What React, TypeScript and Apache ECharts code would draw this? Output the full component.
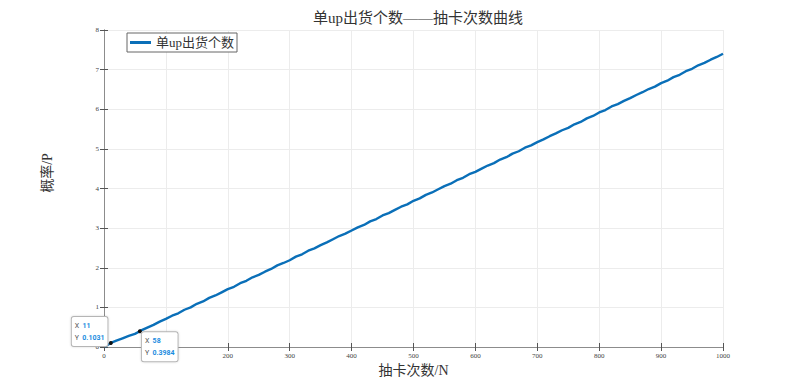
import React, { useEffect, useRef } from "react";
import * as echarts from "echarts";

const drawsX = [
  1, 11, 20, 30, 40, 50, 58, 60, 70, 80, 90, 100,
  110, 120, 130, 140, 150, 160, 170, 180, 190, 200,
  210, 220, 230, 240, 250, 260, 270, 280, 290, 300,
  310, 320, 330, 340, 350, 360, 370, 380, 390, 400,
  410, 420, 430, 440, 450, 460, 470, 480, 490, 500,
  510, 520, 530, 540, 550, 560, 570, 580, 590, 600,
  610, 620, 630, 640, 650, 660, 670, 680, 690, 700,
  710, 720, 730, 740, 750, 760, 770, 780, 790, 800,
  810, 820, 830, 840, 850, 860, 870, 880, 890, 900,
  910, 920, 930, 940, 950, 960, 970, 980, 990, 1000,
];
const probP = [
  0.01, 0.1031, 0.16, 0.22, 0.28, 0.33, 0.3984, 0.42, 0.49, 0.56, 0.64, 0.71,
  0.79, 0.85, 0.94, 1.0, 1.09, 1.15, 1.24, 1.3, 1.38, 1.46,
  1.52, 1.61, 1.67, 1.76, 1.82, 1.9, 1.97, 2.06, 2.12, 2.19,
  2.28, 2.34, 2.43, 2.49, 2.57, 2.64, 2.72, 2.8, 2.86, 2.94,
  3.02, 3.08, 3.17, 3.23, 3.32, 3.38, 3.46, 3.54, 3.6, 3.69,
  3.75, 3.84, 3.9, 3.98, 4.06, 4.12, 4.21, 4.27, 4.36, 4.42,
  4.5, 4.58, 4.64, 4.73, 4.79, 4.88, 4.94, 5.03, 5.09, 5.17,
  5.24, 5.32, 5.39, 5.47, 5.53, 5.62, 5.68, 5.77, 5.83, 5.92,
  5.98, 6.07, 6.13, 6.21, 6.28, 6.36, 6.43, 6.51, 6.57, 6.66,
  6.72, 6.81, 6.87, 6.96, 7.02, 7.11, 7.17, 7.25, 7.32, 7.4,
];
const dataTips = [
  { x: 11, y: 0.1031 },
  { x: 58, y: 0.3984 },
];

const TITLE = "单up出货个数——抽卡次数曲线";
const SERIES_NAME = "单up出货个数";
const X_NAME = "抽卡次数/N";
const Y_NAME = "概率/P";

const SERIF = "'Liberation Serif', 'DejaVu Serif', 'Noto Sans CJK SC', serif";

export default function App() {
  const ref = useRef<HTMLDivElement>(null);
  useEffect(() => {
    if (!ref.current) return;
    const chart = echarts.init(ref.current, undefined, { renderer: "svg" });
    const axisLineColor = "#8c8c8c";
    const tipLabel = (pos: "lt" | "rb") => ({
      show: true,
      formatter: (p: any) => `{k|X} {v|${p.data.coord[0]}}\n{k|Y} {v|${p.data.coord[1]}}`,
      position: pos === "lt" ? [-37, -24] : [4, 3],
      align: "left",
      verticalAlign: "top",
      backgroundColor: "#ffffff",
      borderColor: "#b5b5b5",
      borderWidth: 1,
      borderRadius: 2,
      padding: [3, 3, 2, 3],
      shadowColor: "rgba(0,0,0,0.15)",
      shadowBlur: 2,
      rich: {
        k: { fontSize: 7, color: "#555555", fontFamily: "Roboto, sans-serif", lineHeight: 11 },
        v: { fontSize: 7, color: "#1a8ce0", fontWeight: "bold", fontFamily: "Roboto, sans-serif", lineHeight: 11 },
      },
    });
    chart.setOption({
      animation: false,
      backgroundColor: "#ffffff",
      title: {
        text: TITLE,
        left: 413,
        top: 5,
        textAlign: "center",
        textStyle: { fontSize: 15, fontWeight: "normal", color: "#333333", fontFamily: SERIF },
      },
      legend: {
        left: 127,
        top: 33,
        data: [SERIES_NAME],
        icon: "rect",
        itemWidth: 21,
        itemHeight: 3,
        padding: [3, 3, 3, 3],
        borderColor: "#666666",
        borderWidth: 1,
        borderRadius: 0,
        backgroundColor: "#ffffff",
        textStyle: { fontSize: 13, color: "#333333", fontFamily: SERIF },
      },
      grid: { left: 104, right: 76, top: 30, bottom: 43, containLabel: false },
      xAxis: [
        {
          type: "value",
          min: 0,
          max: 1000,
          interval: 100,
          name: X_NAME,
          nameLocation: "middle",
          nameGap: 14,
          nameTextStyle: { fontSize: 14, color: "#333333", fontFamily: SERIF },
          axisLine: { show: true, lineStyle: { color: axisLineColor, width: 1 } },
          axisTick: { show: true, inside: true, length: 4, lineStyle: { color: "#555555" } },
          axisLabel: { fontSize: 7, color: "#444444", margin: 5, fontFamily: SERIF, formatter: (v: number) => String(v) },
          splitLine: { show: true, lineStyle: { color: "#ececec", width: 1 } },
        },
        {
          type: "value",
          position: "top",
          min: 0,
          max: 1000,
          interval: 100,
          axisLine: { show: true, lineStyle: { color: axisLineColor, width: 1 } },
          axisTick: { show: true, inside: true, length: 4, lineStyle: { color: "#555555" } },
          axisLabel: { show: false },
          splitLine: { show: false },
        },
      ],
      yAxis: [
        {
          type: "value",
          min: 0,
          max: 8,
          interval: 1,
          axisLine: { show: true, lineStyle: { color: axisLineColor, width: 1 } },
          axisTick: { show: true, inside: true, length: 4, lineStyle: { color: "#555555" } },
          axisLabel: { fontSize: 7, color: "#444444", margin: 5, fontFamily: SERIF, formatter: (v: number) => String(v) },
          splitLine: { show: true, lineStyle: { color: "#ececec", width: 1 } },
        },
        {
          type: "value",
          position: "right",
          min: 0,
          max: 8,
          interval: 1,
          axisLine: { show: true, lineStyle: { color: axisLineColor, width: 1 } },
          axisTick: { show: true, inside: true, length: 4, lineStyle: { color: "#555555" } },
          axisLabel: { show: false },
          splitLine: { show: false },
        },
      ],
      graphic: [
        {
          type: "text",
          x: 47,
          y: 173,
          rotation: Math.PI / 2,
          style: {
            text: Y_NAME,
            fontSize: 14,
            fill: "#333333",
            fontFamily: SERIF,
            align: "center",
            verticalAlign: "middle",
          },
        },
      ],
      series: [
        {
          name: SERIES_NAME,
          type: "line",
          xAxisIndex: 0,
          yAxisIndex: 0,
          data: drawsX.map((x, i) => [x, probP[i]]),
          showSymbol: false,
          symbol: "none",
          lineStyle: { color: "#0a6fb8", width: 2.4 },
          itemStyle: { color: "#0a6fb8" },
          z: 3,
          markPoint: {
            symbol: "circle",
            symbolSize: 4,
            itemStyle: { color: "#111111" },
            data: [
              { coord: [dataTips[0].x, dataTips[0].y], label: tipLabel("lt") },
              { coord: [dataTips[1].x, dataTips[1].y], label: tipLabel("rb") },
            ],
          },
        },
      ],
    });
    return () => chart.dispose();
  }, []);
  return <div ref={ref} style={{ position: "fixed", left: 0, top: 0, width: 799, height: 390 }} />;
}
